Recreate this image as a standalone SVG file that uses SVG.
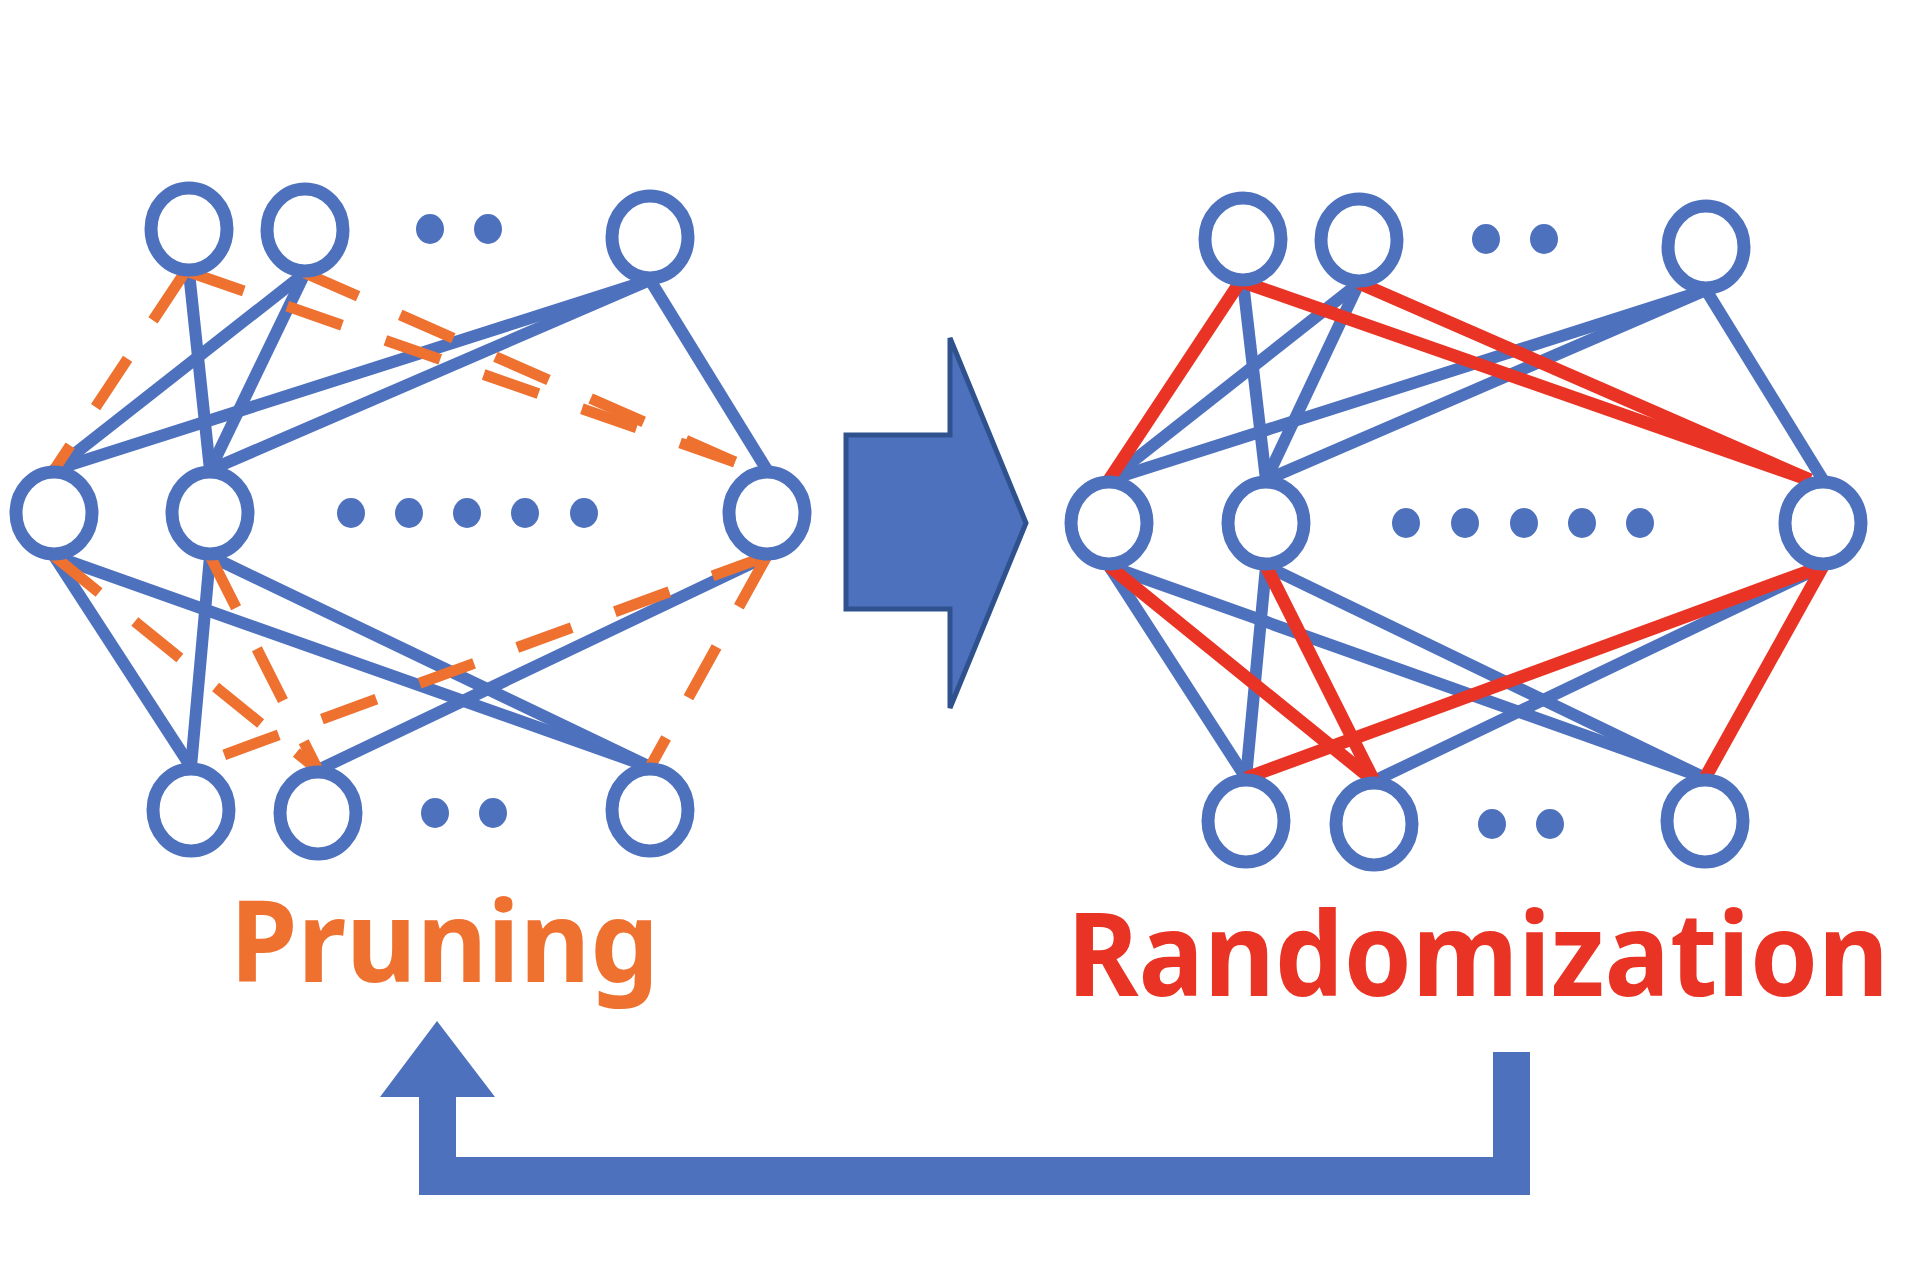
<svg xmlns="http://www.w3.org/2000/svg" width="1917" height="1278" viewBox="0 0 1917 1278">
<style>
.node{fill:#fff;stroke:#4E71BE;stroke-width:13}
.dot{fill:#4E71BE}
.b{stroke:#4E71BE;stroke-width:12;fill:none}
.o{stroke:#EE7130;stroke-width:11;fill:none;stroke-dasharray:58 46}
.r{stroke:#E93425;stroke-width:13;fill:none}
.lbl{font-family:"Noto Sans","Open Sans","Liberation Sans",sans-serif;font-weight:bold}
</style>
<rect width="1917" height="1278" fill="#fff"/>
<g id="connectors">
<line class="b" x1="189" y1="272" x2="210" y2="470"/>
<line class="b" x1="305" y1="273" x2="54" y2="470"/>
<line class="b" x1="305" y1="273" x2="210" y2="470"/>
<line class="b" x1="650" y1="280" x2="54" y2="470"/>
<line class="b" x1="650" y1="280" x2="210" y2="470"/>
<line class="b" x1="650" y1="280" x2="767" y2="470"/>
<line class="b" x1="54" y1="556" x2="191" y2="767"/>
<line class="b" x1="54" y1="556" x2="650" y2="767"/>
<line class="b" x1="210" y1="556" x2="191" y2="767"/>
<line class="b" x1="210" y1="556" x2="650" y2="767"/>
<line class="b" x1="767" y1="556" x2="318" y2="770"/>
<line class="o" x1="185" y1="272" x2="54" y2="470"/>
<line class="o" x1="189" y1="272" x2="735" y2="462"/>
<line class="o" x1="305" y1="273" x2="735" y2="462"/>
<line class="o" x1="54" y1="556" x2="318" y2="770"/>
<line class="o" x1="210" y1="556" x2="318" y2="770"/>
<line class="o" x1="767" y1="556" x2="191" y2="767"/>
<line class="o" x1="767" y1="556" x2="650" y2="767"/>
<line class="b" x1="1243" y1="282" x2="1266" y2="480"/>
<line class="b" x1="1359" y1="283" x2="1109" y2="480"/>
<line class="b" x1="1359" y1="283" x2="1266" y2="480"/>
<line class="b" x1="1706" y1="290" x2="1109" y2="480"/>
<line class="b" x1="1706" y1="290" x2="1266" y2="480"/>
<line class="b" x1="1706" y1="290" x2="1823" y2="480"/>
<line class="b" x1="1109" y1="566" x2="1246" y2="778"/>
<line class="b" x1="1109" y1="566" x2="1705" y2="778"/>
<line class="b" x1="1266" y1="566" x2="1246" y2="778"/>
<line class="b" x1="1266" y1="566" x2="1705" y2="778"/>
<line class="b" x1="1823" y1="566" x2="1374" y2="781"/>
<line class="r" x1="1240" y1="282" x2="1109" y2="480"/>
<line class="r" x1="1243" y1="282" x2="1810" y2="480"/>
<line class="r" x1="1359" y1="283" x2="1810" y2="480"/>
<line class="r" x1="1109" y1="566" x2="1374" y2="781"/>
<line class="r" x1="1266" y1="566" x2="1374" y2="781"/>
<line class="r" x1="1823" y1="566" x2="1246" y2="778"/>
<line class="r" x1="1823" y1="566" x2="1705" y2="778"/>
</g>
<g id="left-network">
<ellipse id="lT1" class="node" cx="189" cy="229" rx="38" ry="41"/>
<ellipse id="lT2" class="node" cx="305" cy="230" rx="38" ry="41"/>
<ellipse id="lT3" class="node" cx="650" cy="237" rx="38" ry="41"/>
<ellipse id="lM1" class="node" cx="54" cy="513" rx="38" ry="41"/>
<ellipse id="lM2" class="node" cx="210" cy="513" rx="38" ry="41"/>
<ellipse id="lM3" class="node" cx="767" cy="513" rx="38" ry="41"/>
<ellipse id="lB1" class="node" cx="191" cy="810" rx="38" ry="41"/>
<ellipse id="lB2" class="node" cx="318" cy="813" rx="38" ry="41"/>
<ellipse id="lB3" class="node" cx="650" cy="810" rx="38" ry="41"/>
<ellipse class="dot" cx="430" cy="229" rx="14" ry="15"/>
<ellipse class="dot" cx="488" cy="229" rx="14" ry="15"/>
<ellipse class="dot" cx="351" cy="513" rx="14" ry="15"/>
<ellipse class="dot" cx="409" cy="513" rx="14" ry="15"/>
<ellipse class="dot" cx="467" cy="513" rx="14" ry="15"/>
<ellipse class="dot" cx="525" cy="513" rx="14" ry="15"/>
<ellipse class="dot" cx="584" cy="513" rx="14" ry="15"/>
<ellipse class="dot" cx="435" cy="813" rx="14" ry="15"/>
<ellipse class="dot" cx="493" cy="813" rx="14" ry="15"/>
</g>
<g id="right-network">
<ellipse id="rT1" class="node" cx="1243" cy="239" rx="38" ry="41"/>
<ellipse id="rT2" class="node" cx="1359" cy="240" rx="38" ry="41"/>
<ellipse id="rT3" class="node" cx="1706" cy="247" rx="38" ry="41"/>
<ellipse id="rM1" class="node" cx="1109" cy="523" rx="38" ry="41"/>
<ellipse id="rM2" class="node" cx="1266" cy="523" rx="38" ry="41"/>
<ellipse id="rM3" class="node" cx="1823" cy="523" rx="38" ry="41"/>
<ellipse id="rB1" class="node" cx="1246" cy="821" rx="38" ry="41"/>
<ellipse id="rB2" class="node" cx="1374" cy="824" rx="38" ry="41"/>
<ellipse id="rB3" class="node" cx="1705" cy="821" rx="38" ry="41"/>
<ellipse class="dot" cx="1486" cy="239" rx="14" ry="15"/>
<ellipse class="dot" cx="1544" cy="239" rx="14" ry="15"/>
<ellipse class="dot" cx="1406" cy="523" rx="14" ry="15"/>
<ellipse class="dot" cx="1465" cy="523" rx="14" ry="15"/>
<ellipse class="dot" cx="1524" cy="523" rx="14" ry="15"/>
<ellipse class="dot" cx="1582" cy="523" rx="14" ry="15"/>
<ellipse class="dot" cx="1640" cy="523" rx="14" ry="15"/>
<ellipse class="dot" cx="1492" cy="824" rx="14" ry="15"/>
<ellipse class="dot" cx="1550" cy="824" rx="14" ry="15"/>
</g>
<g id="big-arrow">
<polygon points="846,435 950,435 950,338 1026,523 950,708 950,609 846,609" fill="#4E71BE" stroke="#2F528F" stroke-width="5" stroke-linejoin="miter"/>
</g>
<g id="label-pruning">
<text class="lbl" transform="translate(230,982) scale(0.9,1)" x="0" y="0" font-size="113" fill="#EE7130" textLength="476.7" lengthAdjust="spacingAndGlyphs">Pruning</text>
</g>
<g id="label-randomization">
<text class="lbl" transform="translate(1067,996) scale(0.85,1)" x="0" y="0" font-size="116" fill="#E93425" textLength="967" lengthAdjust="spacingAndGlyphs">Randomization</text>
</g>
<g id="loop-arrow">
<polygon points="1493,1052 1530,1052 1530,1195 419,1195 419,1097 380,1097 437,1021 495,1097 456,1097 456,1157 1493,1157" fill="#4E71BE"/>
</g>
</svg>
